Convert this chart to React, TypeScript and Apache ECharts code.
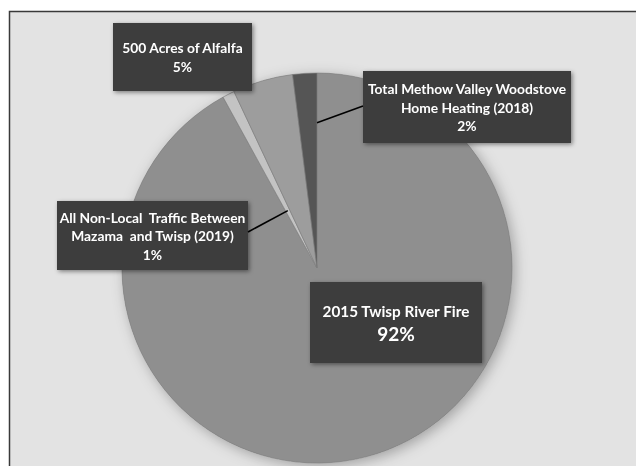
import React, { useEffect, useRef } from 'react';
import * as echarts from 'echarts';

// ---- data ----
const categories = [
  '2015 Twisp River Fire',
  'All Non-Local  Traffic Between\nMazama  and Twisp (2019)',
  '500 Acres of Alfalfa',
  'Total Methow Valley Woodstove\nHome Heating (2018)',
];
const values = [92, 1, 5, 2];

// ---- styles / layout ----
const sliceColors = ['#8f8f8f', '#c3c3c3', '#9d9d9d', '#555555'];
const FONT = 'Lato, "Open Sans", sans-serif';
const CX = 317;
const CY = 268;
const R = 195;
// label box centres and sizes
const labelCenters = [
  [396, 322.5],
  [152.5, 235.5],
  [182.5, 57],
  [467, 107],
];
const labelSizes = [
  [172, 81],
  [191, 69],
  [139, 68],
  [208, 72],
];
const labelLines = [2, 3, 2, 3];
// leader line config: fraction within slice, radius fraction, side of box, y offset
const leaders: any[] = [
  null,
  { t: 0.5, r: 0.33, side: 1, dy: -3.5 },
  null,
  { t: 1.0, r: 0.745, side: -1, dy: -1 },
];

const total = values.reduce((a, b) => a + b, 0);

function sliceAngle(i: number, t: number) {
  let before = 0;
  for (let k = 0; k < i; k++) before += values[k];
  const frac = (before + t * values[i]) / total;
  return ((90 - 360 * frac) * Math.PI) / 180;
}

function leaderLines() {
  const out: any[] = [];
  values.forEach((_, i) => {
    const L = leaders[i];
    if (!L) return;
    const [x, y] = labelCenters[i];
    const a = sliceAngle(i, L.t);
    const r = R * L.r;
    const sx = CX + r * Math.cos(a);
    const sy = CY - r * Math.sin(a);
    const ex = x + (L.side * labelSizes[i][0]) / 2;
    const ey = y + L.dy;
    out.push({
      type: 'line',
      z: 10,
      silent: true,
      shape: { x1: sx, y1: sy, x2: ex, y2: ey },
      style: { stroke: '#000000', lineWidth: 1.6 },
    });
  });
  return out;
}

export default function App() {
  const ref = useRef<HTMLDivElement>(null);
  useEffect(() => {
    if (!ref.current) return;
    const chart = echarts.init(ref.current, null, { renderer: 'svg' });

    const data = values.map((v, i) => {
      const [w, h] = labelSizes[i];
      const isFire = i === 0;
      const lh = 18.5;
      const contentH = isFire ? 44 : labelLines[i] * lh;
      const padV = (h - contentH) / 2;
      return {
        value: v,
        name: categories[i],
        itemStyle: { color: sliceColors[i] },
        label: isFire
          ? {
              formatter: '{a|{b}}\n{c|{d}%}',
              width: w,
              padding: [padV, 0, padV, 0],
              rich: {
                a: { fontFamily: FONT, fontWeight: 'bold', fontSize: 15.3, lineHeight: 21, color: '#fff', align: 'center' },
                c: { fontFamily: FONT, fontWeight: 'bold', fontSize: 19, lineHeight: 23, color: '#fff', align: 'center' },
              },
            }
          : {
              formatter: '{b}\n{d}%',
              width: w,
              lineHeight: lh,
              padding: [padV, 0, padV, 0],
            },
      };
    });

    chart.setOption({
      animation: false,
      graphic: [
        {
          type: 'rect',
          z: -10,
          silent: true,
          shape: { x: 9.5, y: 11.5, width: 700, height: 500 },
          style: { fill: '#e3e3e3', stroke: '#3a3a3a', lineWidth: 1.5 },
        },
        ...leaderLines(),
      ],
      series: [
        {
          type: 'pie',
          z: 1,
          silent: true,
          center: [CX, CY],
          radius: R,
          label: { show: false },
          labelLine: { show: false },
          itemStyle: {
            color: '#8f8f8f',
            shadowBlur: 14,
            shadowColor: 'rgba(0,0,0,0.3)',
            shadowOffsetX: 3,
            shadowOffsetY: 3,
          },
          data: [{ value: total, name: 'bg' }],
        },
        {
          type: 'pie',
          z: 2,
          silent: true,
          center: [CX, CY],
          radius: R,
          startAngle: 90,
          clockwise: true,
          avoidLabelOverlap: false,
          itemStyle: { borderColor: '#808080', borderWidth: 0.6 },
          label: {
            show: true,
            position: 'outside',
            color: '#ffffff',
            fontFamily: FONT,
            fontWeight: 'bold',
            fontSize: 13.8,
            backgroundColor: '#3e3e3e',
            align: 'center',
            shadowBlur: 4,
            shadowColor: 'rgba(0,0,0,0.45)',
            shadowOffsetX: 1.5,
            shadowOffsetY: 1.5,
          },
          labelLine: { show: false },
          labelLayout: (params: any) => {
            const i = params.dataIndex;
            const [x, y] = labelCenters[i];
            return { x, y, align: 'center', verticalAlign: 'middle' };
          },
          data,
        },
      ],
    });
    return () => chart.dispose();
  }, []);
  return (
    <div
      ref={ref}
      style={{ position: 'fixed', left: 0, top: 0, width: 636, height: 466 }}
    />
  );
}
